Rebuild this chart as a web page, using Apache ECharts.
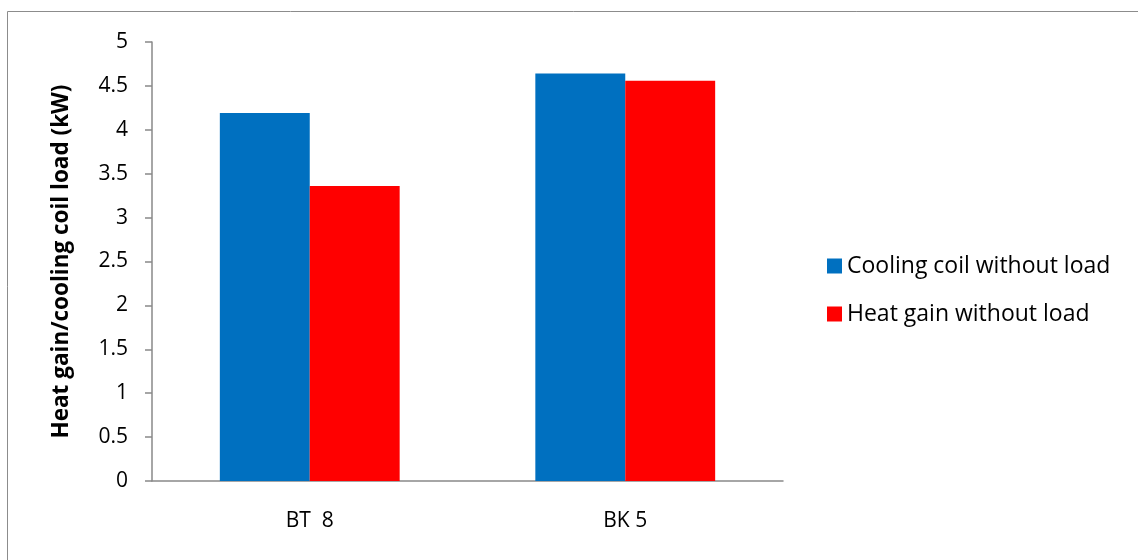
<!DOCTYPE html>
<html>
<head>
<meta charset="utf-8">
<script src="https://cdn.jsdelivr.net/npm/echarts@6/dist/echarts.min.js"></script>
<style>
  html, body { margin: 0; padding: 0; background: #fff; }
  #chart { width: 1138px; height: 560px; }
</style>
</head>
<body>
<div id="chart"></div>
<script>
// Building categories and measured loads (kW)
const categories = ['BT  8', 'BK 5'];
const coolingCoil = [4.19, 4.64];
const heatGain = [3.36, 4.56];
const seriesNames = ['Cooling coil without load', 'Heat gain without load'];
const yTicks = { min: 0, max: 5, interval: 0.5 };

const FONT = '"Open Sans", "Noto Sans", sans-serif';
const AXIS_GREY = '#898989';

const chart = echarts.init(document.getElementById('chart'), null, { renderer: 'canvas' });

chart.setOption({
  backgroundColor: '#ffffff',
  animation: false,
  graphic: [{
    type: 'rect',
    shape: { x: 7.5, y: 11.5, width: 1140, height: 560 },
    style: { fill: 'none', stroke: '#8c8c8c', lineWidth: 1 },
    silent: true
  }],
  grid: { left: 152, right: 355, top: 42, bottom: 79, containLabel: false },
  legend: {
    orient: 'vertical',
    left: 822,
    top: 248,
    itemWidth: 15,
    itemHeight: 15,
    itemGap: 22,
    icon: 'rect',
    textStyle: { fontFamily: FONT, fontSize: 23, lineHeight: 26, color: '#000' },
    data: seriesNames
  },
  xAxis: {
    type: 'category',
    data: categories,
    axisLine: { lineStyle: { color: AXIS_GREY, width: 1.5 } },
    axisTick: { show: false },
    axisLabel: { fontFamily: FONT, fontSize: 21, color: '#000', margin: 30 }
  },
  yAxis: {
    type: 'value',
    min: yTicks.min,
    max: yTicks.max,
    interval: yTicks.interval,
    name: 'Heat gain/cooling coil load (kW)',
    nameLocation: 'middle',
    nameGap: 79,
    nameTextStyle: { fontFamily: FONT, fontSize: 22.5, fontWeight: 'bold', color: '#000' },
    axisLine: { show: true, lineStyle: { color: AXIS_GREY, width: 1.5 } },
    axisTick: { show: true, length: 7, lineStyle: { color: AXIS_GREY, width: 1.5 } },
    splitLine: { show: false },
    axisLabel: { fontFamily: FONT, fontSize: 21, color: '#000', margin: 24 }
  },
  series: [
    {
      name: seriesNames[0],
      type: 'bar',
      data: coolingCoil,
      itemStyle: { color: '#0070C0' },
      barGap: '0%',
      barCategoryGap: '43%'
    },
    {
      name: seriesNames[1],
      type: 'bar',
      data: heatGain,
      itemStyle: { color: '#FF0000' },
      barGap: '0%',
      barCategoryGap: '43%'
    }
  ]
});
</script>
</body>
</html>
